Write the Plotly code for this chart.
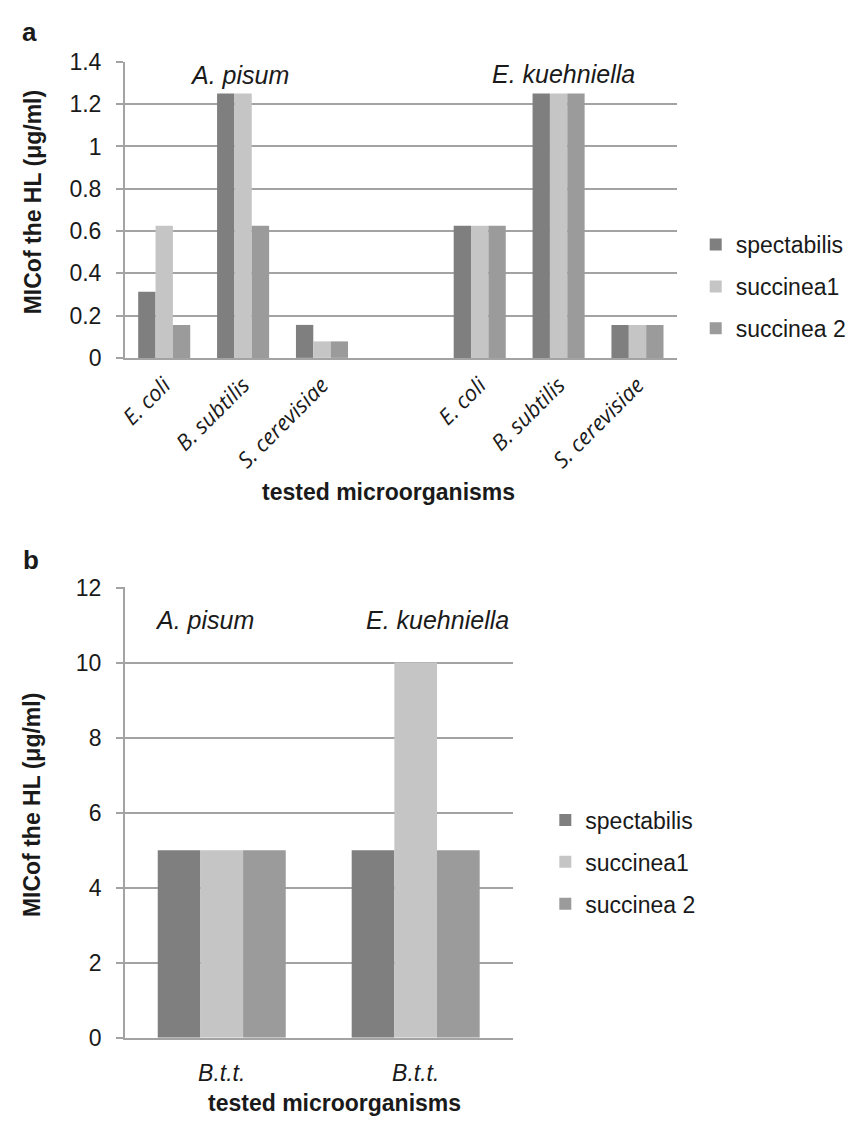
import plotly.graph_objects as go

# ---------------- data ----------------
series_names = ["spectabilis", "succinea1", "succinea 2"]
series_colors = ["#7f7f7f", "#c4c5c4", "#9a9b9a"]

# panel a (7 category slots, 4th slot is an empty separator)
categories_a = ["E. coli", "B. subtilis", "S. cerevisiae", "", "E. coli", "B. subtilis", "S. cerevisiae"]
spectabilis_a = [0.3125, 1.25, 0.156, None, 0.625, 1.25, 0.156]
succinea1_a = [0.625, 1.25, 0.078, None, 0.625, 1.25, 0.156]
succinea2_a = [0.156, 0.625, 0.078, None, 0.625, 1.25, 0.156]
group_labels = ["A. pisum", "E. kuehniella"]

# panel b
categories_b = ["B.t.t.", "B.t.t."]
spectabilis_b = [5, 5]
succinea1_b = [5, 10]
succinea2_b = [5, 5]

y_title = "MICof the HL (μg/ml)"
x_title = "tested microorganisms"

# ---------------- layout helpers ----------------
W, H = 858, 1130
def px(x):
    return x / W
def py(y):
    return 1 - y / H

FONT = "Liberation Sans, Arial, Helvetica, sans-serif"
TXT = "#1a1a1a"
GRID = "#a3a3a3"

fig = go.Figure()

xa = list(range(len(categories_a)))
xb = list(range(len(categories_b)))
vals_a = [spectabilis_a, succinea1_a, succinea2_a]
vals_b = [spectabilis_b, succinea1_b, succinea2_b]

for i, (nm, col) in enumerate(zip(series_names, series_colors)):
    fig.add_trace(go.Bar(x=xa, y=vals_a[i], name=nm, marker=dict(color=col, line=dict(width=0)),
                         xaxis="x", yaxis="y", legend="legend", legendgroup="a%d" % i))
for i, (nm, col) in enumerate(zip(series_names, series_colors)):
    fig.add_trace(go.Bar(x=xb, y=vals_b[i], name=nm, marker=dict(color=col, line=dict(width=0)),
                         xaxis="x2", yaxis="y2", legend="legend2", legendgroup="b%d" % i))

axis_common_y = dict(showgrid=True, gridcolor=GRID, gridwidth=1.5, showline=True, linecolor=GRID,
                     linewidth=1.5, ticks="outside", ticklen=7, tickcolor=GRID, tickwidth=1.5,
                     tickfont=dict(family=FONT, size=23, color=TXT), zeroline=False,
                     ticklabelstandoff=10)
axis_common_x = dict(showgrid=False, showline=True, linecolor=GRID, linewidth=1.5, ticks="",
                     zeroline=False)

fig.update_layout(
    width=W, height=H, autosize=False,
    margin=dict(l=0, r=0, t=0, b=0),
    paper_bgcolor="white", plot_bgcolor="white",
    barmode="group", bargap=0.34, bargroupgap=0,
    font=dict(family=FONT, color=TXT),
    xaxis=dict(domain=[px(117), px(675)], anchor="y", range=[-0.5, 6.5],
               tickmode="array", tickvals=xa, ticktext=categories_a, tickangle=-45,
               tickfont=dict(family="Open Sans, sans-serif", size=22, color=TXT, style="italic"),
               ticklabelstandoff=4, **axis_common_x),
    yaxis=dict(domain=[py(353), py(50)], anchor="x", range=[0, 1.4001], tick0=0, dtick=0.2,
               **axis_common_y),
    xaxis2=dict(domain=[px(117), px(509)], anchor="y2", range=[-0.5, 1.5],
                tickmode="array", tickvals=xb, ticktext=categories_b,
                tickfont=dict(family=FONT, size=23, color=TXT, style="italic"),
                ticklabelstandoff=14, **axis_common_x),
    yaxis2=dict(domain=[py(1049), py(588)], anchor="x2", range=[0, 12.001], tick0=0, dtick=2,
                **axis_common_y),
    legend=dict(x=px(694), y=py(280), xanchor="left", yanchor="middle",
                font=dict(family=FONT, size=23, color=TXT), tracegroupgap=9,
                bgcolor="rgba(0,0,0,0)"),
    legend2=dict(x=px(542), y=py(869), xanchor="left", yanchor="middle",
                 font=dict(family=FONT, size=23, color=TXT), tracegroupgap=9,
                 bgcolor="rgba(0,0,0,0)"),
)

ann = []
def add_text(text, x, y, size, angle=0, italic=False, bold=False):
    t = text
    if italic:
        t = "<i>" + t + "</i>"
    if bold:
        t = "<b>" + t + "</b>"
    ann.append(dict(text=t, x=px(x), y=py(y), xref="paper", yref="paper", showarrow=False,
                    xanchor="center", yanchor="middle", textangle=angle,
                    font=dict(family=FONT, size=size, color=TXT)))

add_text("a", 21, 19, 26, bold=True)
add_text("b", 22, 560, 26, bold=True)
add_text(group_labels[0], 233, 63, 25, italic=True)
add_text(group_labels[1], 560, 62, 25, italic=True)
add_text(group_labels[0], 198, 621, 25, italic=True)
add_text(group_labels[1], 433, 621, 25, italic=True)
add_text(y_title, 24, 194, 23, angle=-90, bold=True)
add_text(y_title, 24, 811, 23, angle=-90, bold=True)
add_text(x_title, 384, 490, 23, bold=True)
add_text(x_title, 329, 1116, 23, bold=True)
fig.update_layout(annotations=ann)

fig.write_html("out.html", config={"displayModeBar": False},
               post_script="document.body.style.margin='0';document.body.style.overflow='hidden';")
